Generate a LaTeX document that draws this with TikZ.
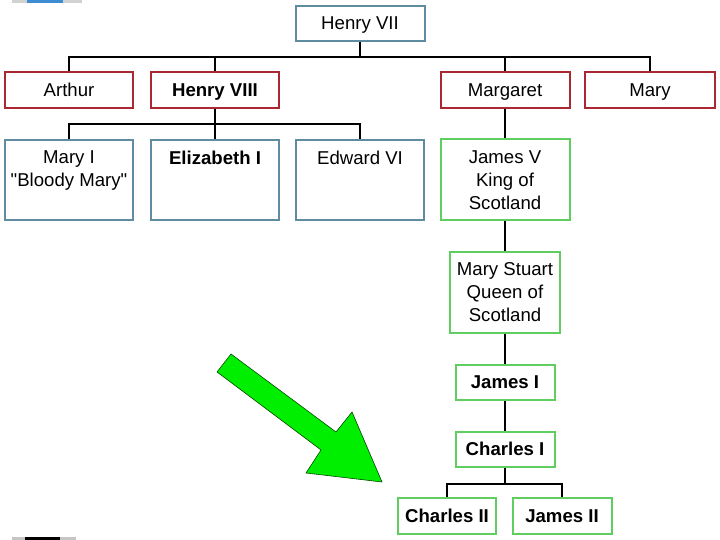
\documentclass[tikz,border=0pt]{standalone}
\usepackage{fontspec}
\setmainfont{Liberation Sans}
\usetikzlibrary{positioning, calc}

\definecolor{tudorteal}{RGB}{95,140,160}
\definecolor{tudorred}{RGB}{170,40,50}
\definecolor{stuartgreen}{RGB}{95,205,95}
\definecolor{arrowgreen}{RGB}{0,238,0}

\begin{document}
\begin{tikzpicture}[
		x=1pt, y=-1pt,
		font=\fontsize{18.6}{23}\selectfont,
		% Family boxes (fixed size, drawn as in the chart)
		famkey/.style 2 args={
				rectangle, draw=#1, line width=#2, fill=white,
				inner sep=2pt, align=center
			},
		tealbox/.style={famkey={tudorteal}{2pt}},
		redbox/.style={famkey={tudorred}{2pt}},
		greenbox/.style={famkey={stuartgreen}{2pt}},
		% One-line boxes: same text box so the words line up
		oneline/.style={text height=14.5pt, text depth=2pt},
		boldname/.style={font=\fontsize{18.6}{23}\selectfont\bfseries},
		% Tall boxes whose text sits at the top
		topbox/.style 2 args={
				tealbox, minimum width=128pt, minimum height=80pt,
				label={[anchor=north, yshift=-8pt, align=center]north:#2}
			},
		% Tree lines
		treeline/.style={draw=black, line width=1.8pt},
		bigarrow/.style={fill=arrowgreen, draw=black!70!green, line width=0.6pt, line join=miter}
	]
	\useasboundingbox (0,0) rectangle (720,540);

	% ==========================================
	% 1. SLIDE EDGE MARKS
	% ==========================================
	\fill[gray!35] (12,0) rectangle (82,3);
	\fill[cyan!60!blue!80] (27,0) rectangle (63,3);
	\fill[gray!45] (12,537) rectangle (76,540);
	\fill[black] (25,537) rectangle (60,540);

	% ==========================================
	% 2. TUDOR GENERATIONS
	% ==========================================

	% Generation 1
	\node[tealbox, oneline, minimum width=129pt, minimum height=35pt] (henry7) at (360,23.5) {Henry VII};

	% Generation 2
	\node[redbox, oneline, minimum width=128pt, minimum height=36pt] (arthur) at (69,90) {Arthur};
	\node[redbox, oneline, boldname, line width=2.8pt, minimum width=128pt, minimum height=36pt] (henry8) at (215,90) {Henry VIII};
	\node[redbox, oneline, minimum width=129pt, minimum height=36pt] (margaret) at (505,90) {Margaret};
	\node[redbox, oneline, minimum width=130pt, minimum height=36pt] (mary) at (650,90) {Mary};

	% Generation 3 (children of Henry VIII)
	\node[topbox={}{Mary I\\\textquotedbl Bloody Mary\textquotedbl}] (maryI) at (69,180) {};
	\node[topbox={}{\bfseries Elizabeth I}] (elizabeth) at (215,180) {};
	\node[topbox={}{Edward VI}] (edward) at (360,180) {};

	% ==========================================
	% 3. STUART LINE
	% ==========================================
	\node[greenbox, minimum width=129pt, minimum height=81pt] (jamesV) at (505,180) {James V\\King of\\Scotland};
	\node[greenbox, line width=2.8pt, minimum width=110pt, minimum height=81pt] (marystuart) at (505,292.5) {Mary Stuart\\Queen of\\Scotland};
	\node[greenbox, oneline, boldname, minimum width=99pt, minimum height=35pt] (jamesI) at (505,382.5) {James I};
	\node[greenbox, oneline, boldname, minimum width=99pt, minimum height=35pt] (charlesI) at (505,449.5) {Charles I};
	\node[greenbox, oneline, boldname, minimum width=98pt, minimum height=36pt] (charlesII) at (447,516) {Charles II};
	\node[greenbox, oneline, boldname, minimum width=99pt, minimum height=36pt] (jamesII) at (562,516) {James II};

	% ==========================================
	% 4. TREE LINES
	% ==========================================
	\foreach \kid in {arthur, henry8, margaret, mary}
	\draw[treeline] (henry7.south) -- ++(0,15) -| (\kid.north);

	\foreach \kid in {maryI, elizabeth, edward}
	\draw[treeline] (henry8.south) -- ++(0,15) -| (\kid.north);

	\draw[treeline] (margaret.south) -- (jamesV.north);
	\draw[treeline] (jamesV.south) -- (jamesV.south |- marystuart.north);
	\draw[treeline] (marystuart.south) -- (marystuart.south |- jamesI.north);
	\draw[treeline] (jamesI.south) -- (charlesI.north);

	\foreach \kid in {charlesII, jamesII}
	\draw[treeline] (charlesI.south) -- ++(0,16) -| (\kid.north);

	% ==========================================
	% 5. GREEN POINTER
	% ==========================================
	\filldraw[bigarrow] (231,354) -- (336,432) -- (352,412) -- (382,482)
	-- (306,473) -- (321,450) -- (217,372) -- cycle;

\end{tikzpicture}
\end{document}
